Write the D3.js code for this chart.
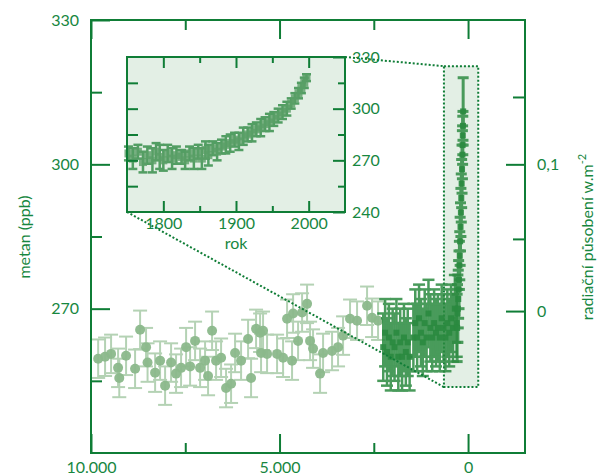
<!DOCTYPE html>
<html>
<head>
<meta charset="utf-8">
<script src="https://cdn.jsdelivr.net/npm/d3@7"></script>
<style>
  body { margin: 0; background: #fff; }
  text { font-family: Lato, "Open Sans", sans-serif; }
</style>
</head>
<body>
<div id="chart"></div>
<script>

// holocene record (light green circles), years before present
const holoceneBP = [9810, 9627, 9468, 9282, 9250, 9070, 8831, 8698, 8540, 8500, 8300, 8168, 8035, 7876, 7744, 7611, 7478, 7372, 7240, 7107, 6975, 6895, 6789, 6683, 6550, 6418, 6285, 6179, 6020, 5834, 5755, 5622, 5516, 5490, 5437, 5331, 5065, 4906, 4800, 4668, 4641, 4508, 4402, 4270, 4190, 4111, 3925, 3845, 3607, 3448, 3315, 3130, 2944, 2679, 2546, 2387]
const holocenePpb = [259.6, 260, 260.6, 257.7, 255.6, 260.2, 257.5, 265.6, 262, 258.8, 256.7, 259.2, 254, 258.8, 256.5, 257.7, 262, 258, 263.3, 257.7, 259.2, 256, 265.4, 259.2, 259.8, 253.5, 254.4, 260.8, 259.2, 263.7, 255.6, 265.8, 265, 260.8, 265.4, 260.6, 260.6, 259.8, 267.9, 259.2, 269, 263.3, 269.2, 271, 263.3, 261.7, 256.5, 260.8, 261.2, 262, 264.4, 267.9, 267.5, 270.6, 268.1, 267.5]
const holoceneErr = 4

// late holocene record (dark green)
const lateBP = [2250, 2200, 2150, 2100, 2050, 2000, 1950, 1900, 1850, 1800, 1750, 1700, 1650, 1600, 1550, 1450, 1400, 1350, 1300, 1250, 1200, 1150, 1100, 1050, 1000, 950, 900, 850, 800, 750, 700, 650, 600, 550, 500, 450, 400, 350, 300]
const latePpb = [262, 265, 261, 264, 260, 263, 262, 265, 260, 263, 260, 264, 261, 263, 260, 264, 267, 264, 268, 265, 263, 267, 264, 269, 266, 264, 267, 265, 266, 264, 268, 266, 264, 267, 265, 268, 266, 270, 267]
const lateErr = 7

// industrial rise as seen in the main panel
const spikeBP = [290, 280, 270, 260, 250, 240, 230, 220, 210, 200, 190, 180, 170, 160, 150, 145, 140, 135, 130]
const spikePpb = [266, 269, 270, 272, 274, 276, 279, 281, 284, 287, 290, 293, 296, 299, 302, 304, 306, 308, 311]
const spikeErr = [7, 6, 7, 6, 6, 6, 5, 5, 5, 5, 5, 5, 5, 5, 5, 4, 4, 3, 7]

// inset: 1750 - 2000
const insetYear = [1752, 1758, 1765, 1772, 1778, 1785, 1790, 1795, 1800, 1806, 1812, 1818, 1825, 1830, 1836, 1842, 1848, 1853, 1858, 1862, 1868, 1874, 1880, 1886, 1892, 1898, 1904, 1910, 1916, 1922, 1928, 1934, 1940, 1946, 1952, 1958, 1964, 1970, 1976, 1981, 1986, 1990, 1994, 1997]
const insetPpb = [274, 271, 275, 269, 273, 270, 275, 272, 270, 274, 271, 273, 272, 270, 274, 271, 275, 271, 276, 273, 277, 275, 278, 279, 280, 282, 281, 284, 285, 286, 288, 289, 291, 292, 294, 296, 298, 300, 303, 306, 309, 312, 315, 318]
const insetErr = [4, 6, 4, 6, 5, 7, 5, 7, 6, 5, 6, 5, 4, 5, 4, 6, 4, 6, 5, 6, 4, 5, 4, 5, 5, 4, 5, 5, 4, 5, 4, 5, 4, 5, 4, 4, 4, 4, 3, 3, 3, 3, 3, 2]

// axes
const xMajor = [10000, 5000, 0]
const xMinor = [7500, 2500]
const yMajor = [330, 300, 270]
const yMinor = [315, 285, 255]
const forcingTicks = [0, 0.05, 0.1, 0.15]
const forcingPpb = [269.5, 284.5, 300, 314]
const forcingMajor = [0, 0.1]
const forcingMinor = [0.05, 0.15]
const insetXMajor = [1800, 1900, 2000]
const insetXMinor = [1850, 1950]
const insetYMajor = [330, 300, 270, 240]
const insetYMinor = [315, 285, 255]

// zoomed region marked in the main panel
const zoomBP = [640, -270]
const zoomPpb = [253.7, 320.4]

const green = "#0f7d36", textGreen = "#17873f", panelFill = "#e3efe5"
const cs = d3.formatLocale({ decimal: ",", thousands: ".", grouping: [3], currency: ["", " Kč"] })

const svg = d3.select("#chart").append("svg")
    .attr("width", 602)
    .attr("height", 475)

const x = d3.scaleLinear().domain([10000, -1510]).range([91, 525])
const y = d3.scaleLinear().domain([240, 330]).range([453, 20])
const yF = d3.scaleLinear().domain(forcingTicks).range(forcingPpb.map(y))

const xi = d3.scaleLinear().domain([1750, 2050]).range([127, 345])
const yi = d3.scaleLinear().domain([240, 330]).range([212, 57])

function axis(gen, scale, values, size, pad, fmt, tx, ty) {
    const a = gen(scale).tickValues(values).tickSize(size).tickPadding(pad)
        .tickFormat(fmt || (() => ""))
    const g = svg.append("g").attr("transform", `translate(${tx},${ty})`).call(a)
    g.select(".domain").remove()
    g.selectAll("line").attr("stroke", green).attr("stroke-width", 2)
    g.selectAll("text").attr("fill", textGreen).attr("font-size", 16)
        .attr("font-family", "Lato, sans-serif")
    return g
}

function errorBars(xs, ys, errs, sx, sy, cap, color, w, op) {
    const e = i => typeof errs === "number" ? errs : errs[i]
    const d = xs.map((v, i) => ({ x: sx(v), y: sy(ys[i]), lo: sy(ys[i] - e(i)), hi: sy(ys[i] + e(i)) }))
    const g = svg.append("g").attr("stroke", color).attr("stroke-width", w).attr("opacity", op)
    g.selectAll(".bar").data(d).enter().append("line")
        .attr("x1", p => p.x).attr("x2", p => p.x)
        .attr("y1", p => p.lo).attr("y2", p => p.hi)
    g.selectAll(".capTop").data(d).enter().append("line")
        .attr("x1", p => p.x - cap / 2).attr("x2", p => p.x + cap / 2)
        .attr("y1", p => p.hi).attr("y2", p => p.hi)
    g.selectAll(".capBot").data(d).enter().append("line")
        .attr("x1", p => p.x - cap / 2).attr("x2", p => p.x + cap / 2)
        .attr("y1", p => p.lo).attr("y2", p => p.lo)
    return d
}

// zoom box in the main panel
svg.append("rect")
    .attr("x", x(zoomBP[0])).attr("y", y(zoomPpb[1]))
    .attr("width", x(zoomBP[1]) - x(zoomBP[0]))
    .attr("height", y(zoomPpb[0]) - y(zoomPpb[1]))
    .attr("fill", panelFill)
    .attr("stroke", green).attr("stroke-width", 2).attr("stroke-dasharray", "2,2")

// light holocene points
const holo = errorBars(holoceneBP, holocenePpb, holoceneErr, x, y, 14, "#9cc49c", 2, 0.75)
svg.append("g").selectAll("circle").data(holo).enter().append("circle")
    .attr("cx", p => p.x).attr("cy", p => p.y).attr("r", 5)
    .attr("fill", "#8bb88b").attr("opacity", 0.95)

// dark late holocene + industrial rise
const late = errorBars(lateBP, latePpb, lateErr, x, y, 12, "#2a8a3f", 2.5, 0.85)
const spike = errorBars(spikeBP, spikePpb, spikeErr, x, y, 11, "#2f8c43", 3, 0.85)
svg.append("g").selectAll("rect").data(late.concat(spike)).enter().append("rect")
    .attr("x", p => p.x - 3).attr("y", p => p.y - 3).attr("width", 6).attr("height", 6)
    .attr("fill", "#2a8a3f").attr("opacity", 0.9)

// connector lines to the inset
svg.append("g")
    .attr("stroke", green).attr("stroke-width", 2).attr("stroke-dasharray", "2,2")
    .selectAll("line")
    .data([
        [xi(2050), yi(330), x(zoomBP[0]), y(zoomPpb[1])],
        [xi(1750), yi(240), x(zoomBP[0]), y(zoomPpb[0])]
    ])
    .enter().append("line")
    .attr("x1", d => d[0]).attr("y1", d => d[1]).attr("x2", d => d[2]).attr("y2", d => d[3])

// main axes
axis(d3.axisBottom, x, xMajor, -19, 9, d => cs.format(",")(d), 0, 453)
axis(d3.axisBottom, x, xMinor, -10, 9, null, 0, 453)
axis(d3.axisTop, x, xMajor, -19, 0, null, 0, 20)
axis(d3.axisTop, x, xMinor, -10, 0, null, 0, 20)
axis(d3.axisLeft, y, yMajor, -19, 12, d => d, 91, 0)
axis(d3.axisLeft, y, yMinor, -11, 12, null, 91, 0)
axis(d3.axisRight, yF, forcingMajor, -19, 12, d => cs.format(".1~f")(d), 525, 0)
axis(d3.axisRight, yF, forcingMinor, -12, 12, null, 525, 0)

svg.append("rect")
    .attr("x", x.range()[0]).attr("y", y.range()[1])
    .attr("width", x.range()[1] - x.range()[0])
    .attr("height", y.range()[0] - y.range()[1])
    .attr("fill", "none").attr("stroke", green).attr("stroke-width", 2)

// inset
svg.append("rect")
    .attr("x", xi.range()[0]).attr("y", yi.range()[1])
    .attr("width", xi.range()[1] - xi.range()[0])
    .attr("height", yi.range()[0] - yi.range()[1])
    .attr("fill", panelFill)

const ins = errorBars(insetYear, insetPpb, insetErr, xi, yi, 9, "#2f8a43", 2.5, 0.8)
svg.append("g").selectAll("rect").data(ins).enter().append("rect")
    .attr("x", p => p.x - 4).attr("y", p => p.y - 4).attr("width", 8).attr("height", 8)
    .attr("fill", "#5a9f66").attr("opacity", 0.8)

axis(d3.axisBottom, xi, insetXMajor, -11, 6, d => d, 0, 212)
axis(d3.axisBottom, xi, insetXMinor, -6, 6, null, 0, 212)
axis(d3.axisTop, xi, insetXMajor, -11, 0, null, 0, 57)
axis(d3.axisTop, xi, insetXMinor, -6, 0, null, 0, 57)
axis(d3.axisRight, yi, insetYMajor, -12, 7, d => d, 345, 0)
axis(d3.axisRight, yi, insetYMinor, -7, 7, null, 345, 0)
axis(d3.axisLeft, yi, insetYMinor.concat([300, 270]), -11, 0, null, 127, 0)

svg.append("rect")
    .attr("x", xi.range()[0]).attr("y", yi.range()[1])
    .attr("width", xi.range()[1] - xi.range()[0])
    .attr("height", yi.range()[0] - yi.range()[1])
    .attr("fill", "none").attr("stroke", green).attr("stroke-width", 2)

// titles
svg.append("text")
    .attr("x", 236).attr("y", 249)
    .attr("text-anchor", "middle").attr("font-size", 16).attr("fill", textGreen)
    .text("rok")

svg.append("text")
    .attr("transform", "translate(30,237) rotate(-90)")
    .attr("text-anchor", "middle").attr("font-size", 16).attr("fill", textGreen)
    .text("metan (ppb)")

const rl = svg.append("text")
    .attr("transform", "translate(593,237) rotate(-90)")
    .attr("text-anchor", "middle").attr("font-size", 16).attr("fill", textGreen)
rl.append("tspan").text("radiační působení w.m")
rl.append("tspan").attr("dy", -7).attr("font-size", 11).text("-2")

</script>
</body>
</html>
